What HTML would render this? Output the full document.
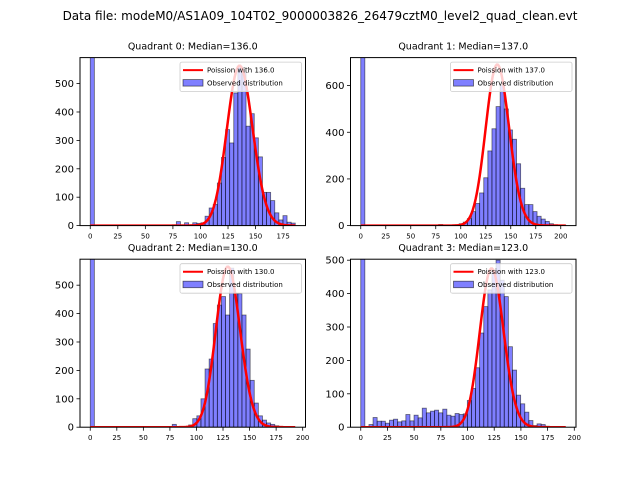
<!DOCTYPE html>
<html><head><meta charset="utf-8"><style>
html,body{margin:0;padding:0;background:#fff}
svg{display:block;font-family:"DejaVu Sans","Liberation Sans",sans-serif}
</style></head><body>
<svg id="fig" width="640" height="480" viewBox="0 0 640 480" xmlns="http://www.w3.org/2000/svg">
<rect width="640" height="480" fill="#fff"/>
<text x="320" y="20" text-anchor="middle" font-size="12">Data file: modeM0/AS1A09_104T02_9000003826_26479cztM0_level2_quad_clean.evt</text>
</svg>
<script>
const quadrantNames = ["Quadrant 0","Quadrant 1","Quadrant 2","Quadrant 3"];
const medians = [136.0, 137.0, 130.0, 123.0];
const dataMax = [186, 205, 193, 192];
const yMaxLimits = [591.5, 720, 591.5, 503];
const yTicks0 = [0,100,200,300,400,500];
const yTicks1 = [0,200,400,600];
const yTicks2 = [0,100,200,300,400,500];
const yTicks3 = [0,100,200,300,400,500];
const xTicks0 = [0,25,50,75,100,125,150,175];
const xTicks1 = [0,25,50,75,100,125,150,175,200];
const xTicks2 = [0,25,50,75,100,125,150,175,200];
const xTicks3 = [0,25,50,75,100,125,150,175,200];
const poissonPeaks = [563, 690, 565, 475];
const counts0 = [5000,0,0,0,0,0,0,0,0,0,0,0,0,0,0,0,0,0,0,2,3,14,3,10,3,10,8,10,33,62,75,150,240,338,291,467,560,540,350,394,309,242,117,117,88,45,20,35,12,9];
const counts1 = [5000,0,0,0,0,0,0,0,0,0,0,0,0,0,0,0,0,0,0,5,2,0,0,4,8,15,30,60,95,140,205,320,415,510,600,500,410,370,265,160,90,90,60,40,28,18,8,4,2,2];
const counts2 = [5000,0,0,0,0,0,0,0,0,0,0,0,0,0,0,0,0,0,0,2,10,2,0,3,8,30,40,100,205,240,365,430,460,395,560,470,470,395,275,165,85,40,25,15,10,5,3,2,0,0];
const counts3 = [5000,0,8,29,18,18,12,21,24,16,19,38,19,36,28,57,43,48,51,43,54,36,33,41,38,40,80,116,178,282,361,411,470,500,440,391,241,171,96,70,45,20,5,10,8,3,1,0,0,0];

const allCounts=[counts0,counts1,counts2,counts3];
const allYTicks=[yTicks0,yTicks1,yTicks2,yTicks3];
const allXTicks=[xTicks0,xTicks1,xTicks2,xTicks3];
const NS="http://www.w3.org/2000/svg";
const svg=document.getElementById('fig');
function mk(tag,attrs,parent){const e=document.createElementNS(NS,tag);for(const k in attrs)e.setAttribute(k,attrs[k]);(parent||svg).appendChild(e);return e;}
function lfact(n){if(n<1)return 0;return n*Math.log(n)-n+0.5*Math.log(2*Math.PI*n)+1/(12*n)-1/(360*n*n*n);}
function logpmf(v,lam){return v*Math.log(lam)-lam-lfact(v);}
const boxes=[[80,57.6],[350.5,57.6],[80,259.2],[350.5,259.2]];
const W=225.5,H=168;
for(let q=0;q<4;q++){
  const [L,T]=boxes[q];const counts=allCounts[q];const nb=counts.length;
  const dmax=dataMax[q];const xmin=-0.05*dmax,xmax=1.05*dmax;
  const ymax=yMaxLimits[q];
  const sx=v=>L+(v-xmin)/(xmax-xmin)*W;
  const sy=v=>T+H-v/ymax*H;
  const g=mk('g',{});
  
  
  const cid='clip'+q;
  const cp=mk('clipPath',{id:cid},g);mk('rect',{x:L,y:T,width:W,height:H},cp);
  const bars=mk('g',{'clip-path':'url(#'+cid+')'},g);
  const bw=dmax/nb;
  for(let k=0;k<nb;k++){
    if(counts[k]<=0)continue;
    const x0=sx(k*bw),x1=sx((k+1)*bw);
    const r=mk('rect',{x:x0,y:sy(counts[k]),width:x1-x0,height:sy(0)-sy(counts[k]),fill:'rgba(0,0,255,0.5)',stroke:'rgba(0,0,0,0.55)','stroke-width':0.8},bars);
    
    
  }
  const lam=medians[q];
  const peakPmf=Math.exp(logpmf(Math.floor(lam),lam));
  const scale=poissonPeaks[q]/peakPmf;
  let d='';
  for(let v=0;v<=Math.floor(dmax);v++){
    const p=Math.exp(logpmf(v,lam));
    d+=(v?'L':'M')+sx(v).toFixed(2)+' '+sy(p*scale).toFixed(2);
  }
  const line=mk('path',{d:d,fill:'none',stroke:'#ff0000','stroke-width':2.5},bars);
  
  
  mk('rect',{x:L,y:T,width:W,height:H,fill:'none',stroke:'#000','stroke-width':1},g);
  allYTicks[q].forEach(t=>{const y=sy(t);mk('line',{x1:L-3.5,x2:L,y1:y,y2:y,stroke:'#000','stroke-width':0.8},g);
    const tx=mk('text',{x:L-6,y:y+3.5,'text-anchor':'end','font-size':10},g);tx.textContent=t;
    
    });
  allXTicks[q].forEach(t=>{const x=sx(t);mk('line',{x1:x,x2:x,y1:T+H,y2:T+H+3.5,stroke:'#000','stroke-width':0.8},g);
    const tx=mk('text',{x:x,y:T+H+13,'text-anchor':'middle','font-size':7},g);tx.textContent=t;
    
    });
  const ti=mk('text',{x:L+W/2,y:T-8,'text-anchor':'middle','font-size':9.5},g);
  ti.textContent=quadrantNames[q]+': Median='+medians[q].toFixed(1);
  
  
  const lg=mk('g',{},g);
  
  
  const lx=L+W-125.5,ly=T+4.5;
  mk('rect',{x:lx,y:ly,width:121.5,height:29.5,rx:2,fill:'rgba(255,255,255,0.8)',stroke:'#ccc','stroke-width':0.8},lg);
  mk('line',{x1:lx+3,x2:lx+23,y1:ly+8,y2:ly+8,stroke:'#ff0000','stroke-width':2},lg);
  const t1=mk('text',{x:lx+27,y:ly+10.5,'font-size':7},lg);t1.textContent='Poission with '+medians[q].toFixed(1);
  mk('rect',{x:lx+3,y:ly+17.5,width:20,height:6.5,fill:'rgba(0,0,255,0.5)',stroke:'rgba(0,0,0,0.6)','stroke-width':0.8},lg);
  const t2=mk('text',{x:lx+27,y:ly+23.5,'font-size':7},lg);t2.textContent='Observed distribution';
}
</script>
</body></html>
